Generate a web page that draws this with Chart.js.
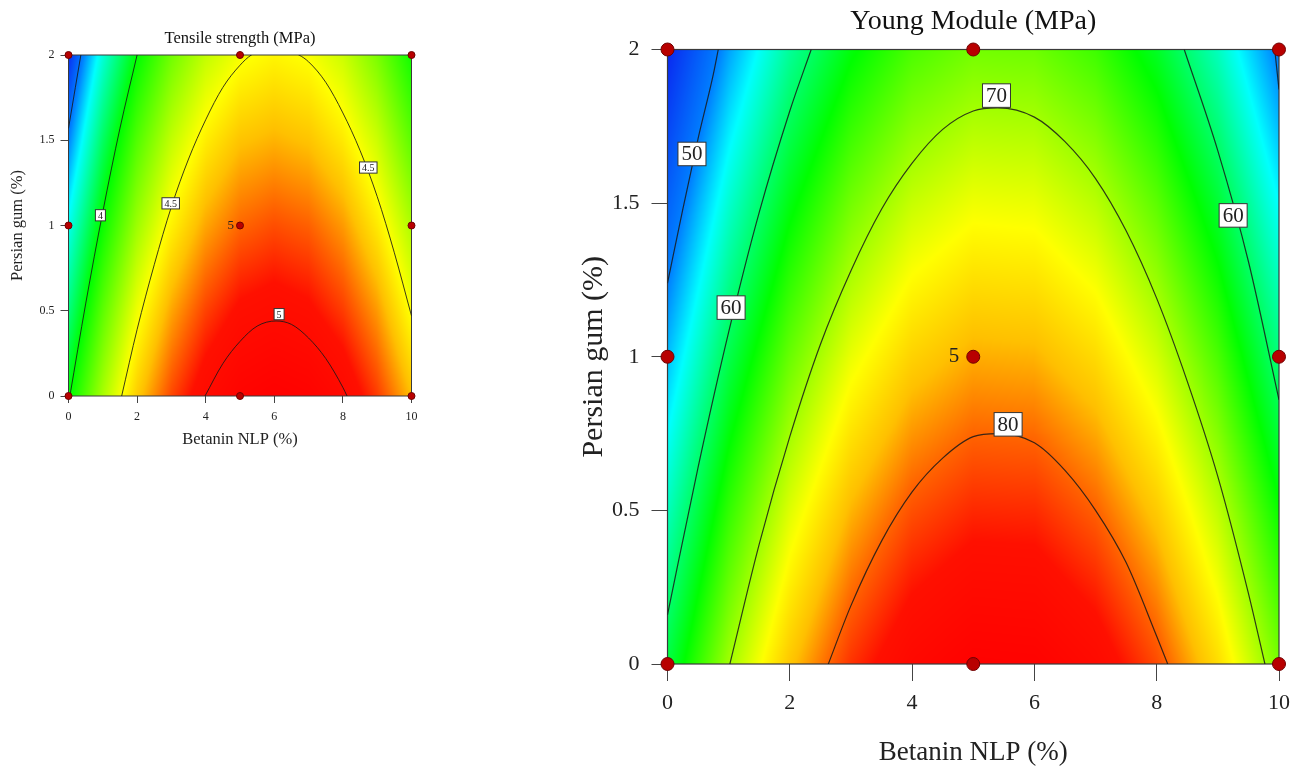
<!DOCTYPE html>
<html lang="en">
<head>
<meta charset="UTF-8">
<title>Tensile strength / Young Module contour plots</title>
<script src="https://cdn.jsdelivr.net/npm/chart.js@4.4.1/dist/chart.umd.min.js"></script>
<style>
  body {margin:0; background:#fff; width:1290px; height:766px; overflow:hidden; position:relative;}
  .panel {position:absolute; top:0;}
  #leftPanel {left:0;}
  #rightPanel {left:560px;}
</style>
</head>
<body>
<div class="panel" id="leftPanel"><canvas id="tensileChart" width="450" height="470"></canvas></div>
<div class="panel" id="rightPanel"><canvas id="youngChart" width="730" height="766"></canvas></div>
<script>
const FONT = "'Liberation Serif', 'DejaVu Serif', serif";

// axes
const xTicks = [0, 2, 4, 6, 8, 10];
const yTicks = [0, 0.5, 1, 1.5, 2];

// fitted surface, rows follow gridY, columns follow gridX
const gridX = [0, 1, 2, 3, 4, 5, 6, 7, 8, 9, 10];
const gridY = [0, 0.5, 1, 1.5, 2];
const tensileZ = [
  [3.99, 4.33, 4.62, 4.84, 5.00, 5.10, 5.14, 5.11, 5.02, 4.86, 4.65],
  [3.83, 4.18, 4.47, 4.69, 4.85, 4.95, 4.98, 4.95, 4.86, 4.71, 4.49],
  [3.68, 4.02, 4.31, 4.53, 4.69, 4.79, 4.83, 4.80, 4.71, 4.55, 4.34],
  [3.52, 3.87, 4.16, 4.38, 4.54, 4.64, 4.67, 4.64, 4.55, 4.40, 4.18],
  [3.37, 3.71, 4.00, 4.22, 4.38, 4.48, 4.52, 4.49, 4.40, 4.24, 4.03]
];
const youngZ = [
  [61.2, 69.8, 76.6, 81.7, 85.0, 86.6, 86.4, 84.5, 80.8, 75.4, 68.2],
  [56.8, 65.4, 72.2, 77.3, 80.6, 82.1, 82.0, 80.0, 76.4, 71.0, 63.8],
  [52.2, 60.8, 67.6, 72.7, 76.0, 77.6, 77.4, 75.5, 71.8, 66.4, 59.2],
  [47.5, 56.1, 62.9, 68.0, 71.3, 72.9, 72.7, 70.8, 67.1, 61.7, 54.5],
  [42.7, 51.2, 58.1, 63.1, 66.4, 68.0, 67.8, 65.9, 62.2, 56.8, 49.7]
];

// contour lines [x, y]
const tensile35 = [[0, 1.57], [0.2, 1.81], [0.36, 2]];
const tensile40 = [[0.04, 0], [0.5, 0.54], [1, 1.08], [1.5, 1.57], [2, 2]];
const tensile45 = [[1.55, 0], [2, 0.39], [2.5, 0.77], [3, 1.11], [3.5, 1.39], [4, 1.62], [4.5, 1.81], [5, 1.94], [5.33, 2],
                   [6.05, 2.05], [6.72, 2], [7, 1.96], [7.5, 1.84], [8, 1.66], [8.5, 1.44], [9, 1.17], [9.5, 0.84], [10, 0.47]];
const tensile50 = [[3.98, 0], [4.5, 0.19], [5, 0.32], [5.5, 0.41], [6.05, 0.44], [6.5, 0.42], [7, 0.34], [7.5, 0.22], [8, 0.05], [8.12, 0]];

const young50a = [[0, 1.24], [0.25, 1.48], [0.5, 1.71], [0.75, 1.92], [0.83, 2]];
const young50b = [[9.93, 2], [10, 1.87]];
const young60a = [[0, 0.16], [0.5, 0.64], [1, 1.08], [1.5, 1.47], [2, 1.8], [2.35, 2]];
const young60b = [[8.45, 2], [9, 1.67], [9.5, 1.31], [10, 0.86]];
const young70 = [[1.02, 0], [1.5, 0.39], [2, 0.74], [2.5, 1.04], [3, 1.28], [3.5, 1.48], [4, 1.63], [4.5, 1.74], [5, 1.8], [5.4, 1.81],
                 [6, 1.78], [6.5, 1.7], [7, 1.58], [7.5, 1.41], [8, 1.19], [8.5, 0.92], [9, 0.61], [9.5, 0.23], [9.77, 0]];
const young80 = [[2.63, 0], [3, 0.19], [3.5, 0.4], [4, 0.56], [4.5, 0.67], [5, 0.74], [5.4, 0.75], [6, 0.72], [6.5, 0.63],
                 [7, 0.5], [7.5, 0.33], [8, 0.09], [8.18, 0]];

// contour labels
const tensileLabelText = ['4', '4.5', '4.5', '5'];
const tensileLabelX = [0.93, 2.98, 8.74, 6.14];
const tensileLabelY = [1.06, 1.13, 1.34, 0.48];
const youngLabelText = ['50', '60', '60', '70', '80'];
const youngLabelX = [0.40, 1.04, 9.25, 5.38, 5.57];
const youngLabelY = [1.66, 1.16, 1.46, 1.85, 0.78];

// design points (centre point run 5 times)
const designX = [0, 0, 0, 5, 5, 5, 10, 10, 10];
const designY = [0, 1, 2, 0, 1, 2, 0, 1, 2];
const centreRuns = '5';

// colour ramps (value -> colour)
const tensileStops = [[3.36, '#0a28f0'], [3.52, '#0080ff'], [3.66, '#00ffff'], [4.0, '#00ff00'], [4.5, '#ffff00'],
                      [4.65, '#ffc000'], [4.8, '#ff6000'], [4.93, '#ff1000'], [5.15, '#ff0000']];
const youngStops = [[42.7, '#0a28f0'], [50, '#0080ff'], [54.5, '#00ffff'], [63.5, '#00ff00'], [73.5, '#ffff00'],
                    [77, '#ffc000'], [80, '#ff6000'], [83, '#ff1000'], [87, '#ff0000']];

function hexRgb(h) { return [parseInt(h.slice(1, 3), 16), parseInt(h.slice(3, 5), 16), parseInt(h.slice(5, 7), 16)]; }

function cellIndex(arr, v) {
  let i = 0;
  while (i < arr.length - 2 && v > arr[i + 1]) i++;
  const t = Math.min(1, Math.max(0, (v - arr[i]) / (arr[i + 1] - arr[i])));
  return [i, t];
}

function surfaceAt(z, xv, yv) {
  const [i, tx] = cellIndex(gridX, xv);
  const [j, ty] = cellIndex(gridY, yv);
  const a = z[j][i] * (1 - tx) + z[j][i + 1] * tx;
  const b = z[j + 1][i] * (1 - tx) + z[j + 1][i + 1] * tx;
  return a * (1 - ty) + b * ty;
}

function rampColor(stops, v) {
  if (v <= stops[0][0]) return stops[0][2];
  for (let k = 1; k < stops.length; k++) {
    if (v <= stops[k][0]) {
      const t = (v - stops[k - 1][0]) / (stops[k][0] - stops[k - 1][0]);
      const c0 = stops[k - 1][2], c1 = stops[k][2];
      return [c0[0] + (c1[0] - c0[0]) * t, c0[1] + (c1[1] - c0[1]) * t, c0[2] + (c1[2] - c0[2]) * t];
    }
  }
  return stops[stops.length - 1][2];
}

function surfacePlugin(cfg) {
  const stops = cfg.stops.map(s => [s[0], s[1], hexRgb(s[1])]);
  return {
    id: 'surface',
    beforeDatasetsDraw(chart) {
      const {ctx, chartArea: a, scales: {x, y}} = chart;
      const w = Math.round(a.right - a.left), h = Math.round(a.bottom - a.top);
      const off = document.createElement('canvas');
      off.width = w; off.height = h;
      const octx = off.getContext('2d');
      const img = octx.createImageData(w, h);
      for (let j = 0; j < h; j++) {
        const yv = y.getValueForPixel(a.top + (j + 0.5) * (a.bottom - a.top) / h);
        for (let i = 0; i < w; i++) {
          const xv = x.getValueForPixel(a.left + (i + 0.5) * (a.right - a.left) / w);
          const c = rampColor(stops, surfaceAt(cfg.z, xv, yv));
          const k = (j * w + i) * 4;
          img.data[k] = c[0]; img.data[k + 1] = c[1]; img.data[k + 2] = c[2]; img.data[k + 3] = 255;
        }
      }
      octx.putImageData(img, 0, 0);
      ctx.save();
      ctx.drawImage(off, a.left, a.top, a.right - a.left, a.bottom - a.top);
      ctx.strokeStyle = '#3a3a3a';
      ctx.lineWidth = cfg.frameWidth;
      ctx.strokeRect(a.left, a.top, a.right - a.left, a.bottom - a.top);
      ctx.restore();
    },
    afterDatasetsDraw(chart) {
      const {ctx, scales: {x, y}} = chart;
      ctx.save();
      ctx.font = cfg.labelSize + 'px ' + FONT;
      ctx.textAlign = 'center';
      ctx.textBaseline = 'middle';
      cfg.labelText.forEach((txt, i) => {
        const px = x.getPixelForValue(cfg.labelX[i]), py = y.getPixelForValue(cfg.labelY[i]);
        const bw = ctx.measureText(txt).width + cfg.labelPad * 2, bh = cfg.labelSize * 1.12;
        ctx.fillStyle = '#ffffff';
        ctx.fillRect(px - bw / 2, py - bh / 2, bw, bh);
        ctx.strokeStyle = '#333';
        ctx.lineWidth = 1;
        ctx.strokeRect(px - bw / 2, py - bh / 2, bw, bh);
        ctx.fillStyle = '#222';
        ctx.fillText(txt, px, py + 1);
      });
      // number of centre point runs
      ctx.font = cfg.centreSize + 'px ' + FONT;
      ctx.textAlign = 'right';
      ctx.fillStyle = '#222';
      ctx.fillText(centreRuns, x.getPixelForValue(5) - cfg.centreGap, y.getPixelForValue(1));
      ctx.restore();
    }
  };
}

function contourSet(pts, width) {
  return {
    type: 'scatter', showLine: true,
    data: pts.map(p => ({x: p[0], y: p[1]})),
    borderColor: 'rgba(25,25,25,0.85)', borderWidth: width,
    pointRadius: 0, cubicInterpolationMode: 'monotone', fill: false
  };
}

function makeChart(id, cfg) {
  const pointSet = {
    type: 'scatter',
    data: designX.map((v, i) => ({x: v, y: designY[i]})),
    pointRadius: cfg.pointRadius,
    backgroundColor: '#b80000', borderColor: '#700000', borderWidth: 1,
    clip: false
  };
  const lines = cfg.contours.map(c => contourSet(c, cfg.lineWidth));
  return new Chart(document.getElementById(id), {
    type: 'scatter',
    data: {datasets: [pointSet].concat(lines)},
    options: {
      responsive: false, animation: false, events: [],
      layout: {padding: {left: 0, top: 0, right: cfg.padRight, bottom: 0}},
      plugins: {
        legend: {display: false}, tooltip: {enabled: false},
        title: {display: true, text: cfg.title, fullSize: false, color: '#111',
                font: {family: FONT, size: cfg.titleSize, weight: 'normal', lineHeight: 1},
                padding: {top: cfg.titleTop, bottom: cfg.titleBottom}}
      },
      scales: {
        x: {
          type: 'linear', min: 0, max: 10,
          afterBuildTicks: s => { s.ticks = xTicks.map(v => ({value: v})); },
          afterFit: s => { s.height = cfg.xHeight; s.paddingLeft = 0; s.paddingRight = 0; },
          grid: {drawOnChartArea: false, drawTicks: true, tickLength: cfg.xTickLen, color: '#444'},
          border: {display: false},
          ticks: {color: '#222', font: {family: FONT, size: cfg.tickSize}, padding: cfg.xTickPad, maxRotation: 0, autoSkip: false,
                  callback: v => String(v)},
          title: {display: true, text: 'Betanin NLP (%)', color: '#222',
                  font: {family: FONT, size: cfg.xTitleSize, lineHeight: 1}, padding: {top: 0, bottom: cfg.xTitlePad}}
        },
        y: {
          type: 'linear', min: 0, max: 2,
          afterBuildTicks: s => { s.ticks = yTicks.map(v => ({value: v})); },
          afterFit: s => { s.width = cfg.yWidth; s.paddingTop = 0; s.paddingBottom = 0; },
          grid: {drawOnChartArea: false, drawTicks: true, tickLength: cfg.yTickLen, color: '#444'},
          border: {display: false},
          ticks: {color: '#222', font: {family: FONT, size: cfg.tickSize}, padding: cfg.yTickPad, autoSkip: false,
                  callback: v => String(v)},
          title: {display: true, text: 'Persian gum (%)', color: '#222',
                  font: {family: FONT, size: cfg.yTitleSize, lineHeight: 1}, padding: {top: cfg.yTitlePad, bottom: 0}}
        }
      }
    },
    plugins: [surfacePlugin(cfg)]
  });
}

makeChart('tensileChart', {
  title: 'Tensile strength (MPa)', titleSize: 16.5, titleTop: 30, titleBottom: 8.5,
  padRight: 38.5, xHeight: 74, yWidth: 68.5,
  tickSize: 12, xTickLen: 7, xTickPad: 6.5, yTickLen: 8, yTickPad: 6,
  xTitleSize: 16.5, xTitlePad: 21.75, yTitleSize: 16.5, yTitlePad: 9.75,
  pointRadius: 3.5, lineWidth: 1, frameWidth: 1,
  z: tensileZ, stops: tensileStops,
  contours: [tensile35, tensile40, tensile45, tensile50],
  labelText: tensileLabelText, labelX: tensileLabelX, labelY: tensileLabelY, labelSize: 10, labelPad: 2.5,
  centreSize: 13, centreGap: 6
});

makeChart('youngChart', {
  title: 'Young Module (MPa)', titleSize: 28, titleTop: 8, titleBottom: 13.5,
  padRight: 11, xHeight: 102, yWidth: 107.5,
  tickSize: 22, xTickLen: 17, xTickPad: 8.7, yTickLen: 16, yTickPad: 12,
  xTitleSize: 27, xTitlePad: 0, yTitleSize: 30, yTitlePad: 19,
  pointRadius: 6.5, lineWidth: 1.2, frameWidth: 1.2,
  z: youngZ, stops: youngStops,
  contours: [young50a, young50b, young60a, young60b, young70, young80],
  labelText: youngLabelText, labelX: youngLabelX, labelY: youngLabelY, labelSize: 21, labelPad: 3.5,
  centreSize: 21, centreGap: 14
});
</script>
</body>
</html>
